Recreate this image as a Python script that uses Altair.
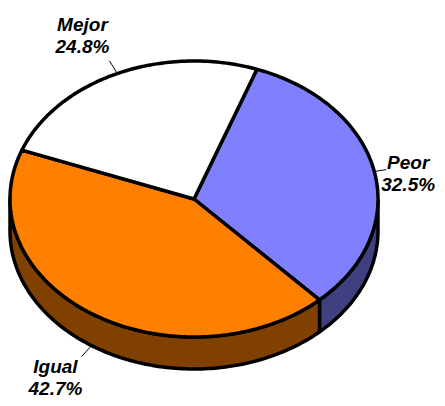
import numpy as np
import pandas as pd
import altair as alt

# ---- data ----
categories = ["Peor", "Igual", "Mejor"]
values = [32.5, 42.7, 24.8]
top_colors = ["#8080FF", "#FF8000", "#FFFFFF"]
side_colors = ["#404080", "#804000", "#808080"]

# ---- layout (pixel space of the page) ----
CX, CY, RX, RY, DEPTH = 194, 199, 184, 138, 32
START = 20.0          # degrees, clockwise from 12 o'clock
LEADER = [12.0, 15.0, 15.0]
label_dx = [22, -26, -27]
label_dy = [-1, 16, -30]


def pt(phi_deg, off=0.0):
    p = np.radians(phi_deg)
    return CX + RX * np.sin(p), CY - RY * np.cos(p) + off


def arc(a, b, off=0.0):
    n = max(2, int(abs(b - a)) + 2)
    return [pt(t, off) for t in np.linspace(a, b, n)]


rows_top, rows_side, rows_lead, rows_lab = [], [], [], []
total = sum(values)
ang = START
for i, (cat, v) in enumerate(zip(categories, values)):
    span = 360.0 * v / total
    a, b = ang, ang + span
    ang = b
    # top face polygon
    pts = [(CX, CY)] + arc(a, b) + [(CX, CY)]
    for k, (x, y) in enumerate(pts):
        rows_top.append(dict(pid=cat, k=k, x=x, y=y, fill=top_colors[i]))
    # visible side (front half 90..270, also shifted by 360)
    for lo, hi in [(90, 270), (450, 630), (-270, -90)]:
        s, e = max(a, lo), min(b, hi)
        if e > s:
            pts = arc(s, e) + arc(e, s, DEPTH)
            pts.append(pts[0])
            for k, (x, y) in enumerate(pts):
                rows_side.append(dict(pid=f"{cat}{lo}", k=k, x=x, y=y, fill=side_colors[i]))
    # leader + label
    m = (a + b) / 2
    mm = m % 360
    off = DEPTH if 90 < mm < 270 else 0
    x0, y0 = pt(m, off)
    dxr, dyr = RX * np.sin(np.radians(m)), -RY * np.cos(np.radians(m))
    nrm = np.hypot(dxr, dyr)
    x1, y1 = x0 + LEADER[i] * dxr / nrm, y0 + LEADER[i] * dyr / nrm
    rows_lead.append(dict(x=x0, y=y0, x2=x1, y2=y1))
    rows_lab.append(dict(x=x1 + label_dx[i], y=y1 + label_dy[i],
                         text=f"{cat}\n{v:.1f}%"))

df_top = pd.DataFrame(rows_top)
df_side = pd.DataFrame(rows_side)
df_lead = pd.DataFrame(rows_lead)
df_lab = pd.DataFrame(rows_lab)

W, H = 429, 390
xs = alt.Scale(domain=[8, 8 + W], nice=False, zero=False)
ys = alt.Scale(domain=[8 + H, 8], nice=False, zero=False)
X = alt.X("x:Q", scale=xs, axis=None)
Y = alt.Y("y:Q", scale=ys, axis=None)

sides = alt.Chart(df_side).mark_line(
    stroke="black", strokeWidth=3.5, strokeJoin="round", interpolate="linear"
).encode(x=X, y=Y, detail="pid:N", order="k:Q",
         fill=alt.Fill("fill:N", scale=None))

tops = alt.Chart(df_top).mark_line(
    stroke="black", strokeWidth=3.5, strokeJoin="round", interpolate="linear"
).encode(x=X, y=Y, detail="pid:N", order="k:Q",
         fill=alt.Fill("fill:N", scale=None))

leads = alt.Chart(df_lead).mark_rule(color="black", strokeWidth=1).encode(
    x=X, y=Y, x2="x2:Q", y2="y2:Q")

labels = alt.Chart(df_lab).mark_text(
    font="Liberation Sans", fontSize=19, fontWeight="bold", fontStyle="italic",
    lineBreak="\n", lineHeight=22, align="center", baseline="alphabetic",
    color="black"
).encode(x=X, y=Y, text="text:N")

chart = alt.layer(sides, tops, leads, labels).properties(
    width=W, height=H, padding=0,
    autosize=alt.AutoSizeParams(type="none")
).configure_view(stroke=None)

chart.save("out.html", embed_options={"renderer": "svg", "actions": False})
